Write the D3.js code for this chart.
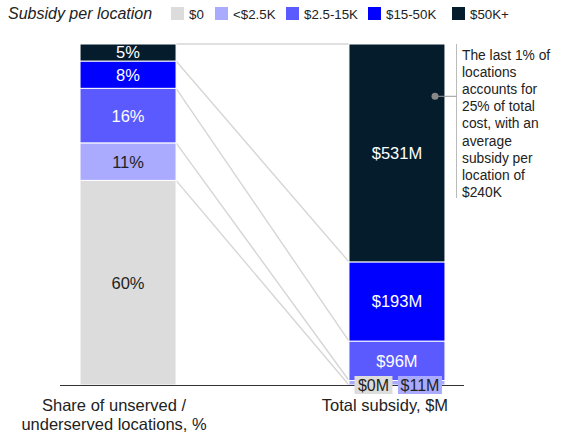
<!DOCTYPE html>
<html>
<head>
<meta charset="utf-8">
<script src="https://cdn.jsdelivr.net/npm/d3@7"></script>
<style>
  body { margin: 0; background: #fff; }
  svg { font-family: "Liberation Sans", Arial, sans-serif; display: block; }
</style>
</head>
<body>
<svg id="chart" width="564" height="437"></svg>
<script>
const categories = ["$0", "<$2.5K", "$2.5-15K", "$15-50K", "$50K+"];
const colors = ["#dcdcdc", "#aaaaff", "#5a5aff", "#0000ff", "#051c2c"];
const labelColors = ["#222", "#222", "#fff", "#fff", "#fff"];
const shareValues = [60, 11, 16, 8, 5];        // % of locations
const subsidyValues = [0, 11, 96, 193, 531];   // $M
const shareLabels = ["60%", "11%", "16%", "8%", "5%"];
const subsidyLabels = ["$0M", "$11M", "$96M", "$193M", "$531M"];
const axisLabels = [["Share of unserved /", "underserved locations, %"], ["Total subsidy, $M"]];
const annotationLines = ["The last 1% of", "locations", "accounts for", "25% of total", "cost, with an", "average", "subsidy per", "location of", "$240K"];

const svg = d3.select("#chart");
const baseY = 385, topY = 44;

const x = d3.scaleBand().domain([0, 1]).range([60, 465]).paddingInner(0.643).paddingOuter(0.0745);
const yL = d3.scaleLinear().domain([0, d3.sum(shareValues)]).range([baseY, topY]);
const yR = d3.scaleLinear().domain([0, d3.sum(subsidyValues)]).range([baseY, topY]);

function stackIt(vals) {
  let c = 0;
  return vals.map((v, i) => { const s = { i, v, y0: c, y1: c + v }; c += v; return s; });
}
const leftStack = stackIt(shareValues);
const rightStack = stackIt(subsidyValues);

// connector lines
const conn = svg.append("g");
leftStack.forEach((d, i) => {
  if (i === 0) return;
  conn.append("line")
    .attr("x1", x(0) + x.bandwidth()).attr("y1", yL(d.y0))
    .attr("x2", x(1)).attr("y2", yR(rightStack[i].y0))
    .attr("stroke", "#d6d6d6").attr("stroke-width", 1.4);
});
conn.append("line")
  .attr("x1", x(0) + x.bandwidth()).attr("y1", yL(leftStack[4].y1))
  .attr("x2", x(1)).attr("y2", yR(rightStack[4].y1))
  .attr("stroke", "#d6d6d6").attr("stroke-width", 1.4);

// bars
function drawBar(stack, yS, col, labels, skipSmall) {
  const g = svg.append("g");
  g.selectAll("rect").data(stack).join("rect")
    .attr("x", x(col)).attr("width", x.bandwidth())
    .attr("y", d => yS(d.y1)).attr("height", d => Math.max(0, yS(d.y0) - yS(d.y1)))
    .attr("fill", d => colors[d.i]).attr("stroke", "#fff").attr("stroke-width", 1);
  g.selectAll("text").data(stack.filter(d => !skipSmall || d.v > 50)).join("text")
    .attr("x", x(col) + x.bandwidth() / 2)
    .attr("y", d => (yS(d.y0) + yS(d.y1)) / 2)
    .attr("dy", "0.36em").attr("text-anchor", "middle")
    .attr("font-size", 16.5).attr("fill", d => labelColors[d.i])
    .text(d => labels[d.i]);
}
drawBar(leftStack, yL, 0, shareLabels, false);
drawBar(rightStack, yR, 1, subsidyLabels, true);

// baseline axis
svg.append("line").attr("x1", 60).attr("x2", 464).attr("y1", baseY + 0.5).attr("y2", baseY + 0.5)
  .attr("stroke", "#333").attr("stroke-width", 1.2);

// small labels with background
const cx = x(1) + x.bandwidth() / 2;
[{ i: 0, dx: -23.5, w: 38 }, { i: 1, dx: 23, w: 44 }].forEach(s => {
  svg.append("rect").attr("x", cx + s.dx - s.w / 2).attr("y", baseY - 9).attr("width", s.w).attr("height", 18)
    .attr("fill", colors[s.i]);
  svg.append("text").attr("x", cx + s.dx).attr("y", baseY).attr("dy", "0.36em")
    .attr("text-anchor", "middle").attr("font-size", 16).attr("fill", "#222").text(subsidyLabels[s.i]);
});

// axis labels
const axisShift = [-14, -12];
axisLabels.forEach((lines, c) => {
  lines.forEach((t, k) => {
    svg.append("text").attr("x", x(c) + x.bandwidth() / 2 + axisShift[c]).attr("y", 411 + k * 19)
      .attr("text-anchor", "middle").attr("font-size", 16.5).attr("fill", "#222").text(t);
  });
});

// annotation
const dotY = yR(rightStack[4].y0 + rightStack[4].v * 0.76);
svg.append("line").attr("x1", 456.5).attr("x2", 456.5).attr("y1", 44).attr("y2", 198)
  .attr("stroke", "#bbb").attr("stroke-width", 1);
svg.append("line").attr("x1", 435).attr("x2", 456.5).attr("y1", dotY).attr("y2", dotY)
  .attr("stroke", "#999").attr("stroke-width", 1);
svg.append("circle").attr("cx", 435).attr("cy", dotY).attr("r", 3.5).attr("fill", "#888");
annotationLines.forEach((t, k) => {
  svg.append("text").attr("x", 462).attr("y", 60 + k * 17.1)
    .attr("font-size", 13.8).attr("fill", "#222").text(t);
});

// legend
svg.append("text").attr("x", 8).attr("y", 19).attr("font-size", 16).attr("font-style", "italic")
  .attr("fill", "#222").text("Subsidy per location");
const legX = [171, 215, 286, 368, 452];
categories.forEach((c, i) => {
  svg.append("rect").attr("x", legX[i]).attr("y", 7).attr("width", 13).attr("height", 13).attr("fill", colors[i]);
  svg.append("text").attr("x", legX[i] + 18).attr("y", 19).attr("font-size", 13.3).attr("fill", "#222").text(c);
});
</script>
</body>
</html>
